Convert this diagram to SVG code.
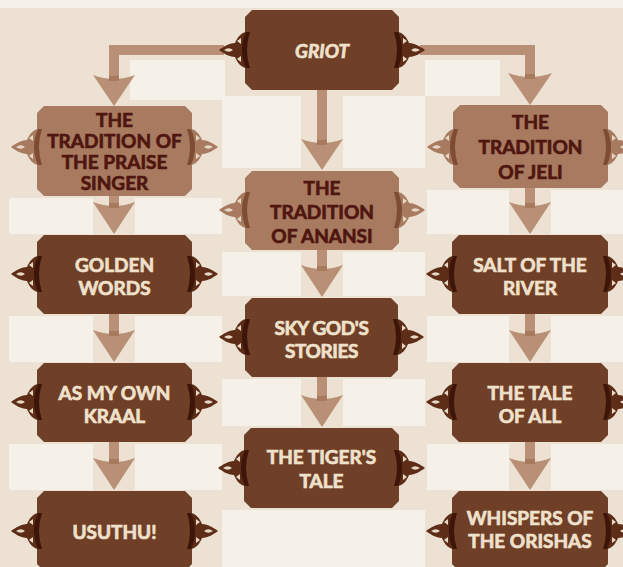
<svg xmlns="http://www.w3.org/2000/svg" xmlns:xlink="http://www.w3.org/1999/xlink" width="623" height="567" viewBox="0 0 623 567">
<style>
.bg{fill:#ece1d2}
.lt{fill:#f5f0e8}
.nd{fill:#6f3f27}
.nl{fill:#a87b60}
.td{font-family:Lato,"Liberation Sans",sans-serif;font-weight:700;font-size:19px;fill:#efe1cc;stroke:#efe1cc;stroke-width:0.7;text-anchor:middle}
.tl{font-family:Lato,"Liberation Sans",sans-serif;font-weight:700;font-size:19px;fill:#4f1610;stroke:#4f1610;stroke-width:0.7;text-anchor:middle}
.shaft{fill:none;stroke:#b98f75;stroke-width:10;stroke-linejoin:miter}
.head{fill:#b98f75}
.stub{fill:#a7795d}
</style>
<defs>
<g id="ornLd">
<path d="M2,-18 C-4,-18 -8,-12 -10,-7 C-16,-7 -22,-3 -26,0 C-22,3 -16,7 -10,7 C-8,12 -4,18 2,18 Z" fill="#5e2d17"/>
<path d="M-21,0 Q-16,-3.5 -12,0 Q-16,3.5 -21,0 Z M-8,-9 L-4,-12 L-4,-6 Z M-8,9 L-4,12 L-4,6 Z" fill="#e6d8c5"/>
<path d="M1,-18 Q-7,0 1,18 L5,18 Q-1,0 5,-18 Z" fill="#3d1509"/>
</g>
<g id="ornLl">
<path d="M2,-18 C-4,-18 -8,-12 -10,-7 C-16,-7 -22,-3 -26,0 C-22,3 -16,7 -10,7 C-8,12 -4,18 2,18 Z" fill="#a87b60"/>
<path d="M-21,0 Q-16,-3.5 -12,0 Q-16,3.5 -21,0 Z M-8,-9 L-4,-12 L-4,-6 Z M-8,9 L-4,12 L-4,6 Z" fill="#e6d8c5"/>
<path d="M1,-18 Q-7,0 1,18 L5,18 Q-1,0 5,-18 Z" fill="#7d4c33"/>
</g>
<g id="ornRd"><use xlink:href="#ornLd" transform="scale(-1,1)"/></g>
<g id="ornRl"><use xlink:href="#ornLl" transform="scale(-1,1)"/></g>
</defs>

<g id="background">
<rect class="bg" x="0" y="0" width="623" height="567"/>
<rect class="lt" x="0" y="0" width="623" height="8"/>
<rect class="lt" x="130" y="60" width="95" height="40"/>
<rect class="lt" x="222" y="96" width="79" height="72"/>
<rect class="lt" x="343" y="96" width="82" height="72"/>
<rect class="lt" x="425" y="60" width="75" height="36"/>
<rect class="lt" x="9" y="198" width="84" height="36"/>
<rect class="lt" x="135" y="198" width="87" height="36"/>
<rect class="lt" x="9" y="316" width="84" height="46"/>
<rect class="lt" x="135" y="316" width="87" height="46"/>
<rect class="lt" x="9" y="444" width="84" height="46"/>
<rect class="lt" x="135" y="444" width="87" height="46"/>
<rect class="lt" x="222" y="252" width="79" height="44"/>
<rect class="lt" x="343" y="252" width="82" height="44"/>
<rect class="lt" x="222" y="379" width="79" height="47"/>
<rect class="lt" x="343" y="379" width="82" height="47"/>
<rect class="lt" x="222" y="510" width="203" height="57"/>
<rect class="lt" x="427" y="190" width="82" height="44"/>
<rect class="lt" x="551" y="190" width="72" height="44"/>
<rect class="lt" x="427" y="316" width="82" height="46"/>
<rect class="lt" x="551" y="316" width="72" height="46"/>
<rect class="lt" x="427" y="444" width="82" height="46"/>
<rect class="lt" x="551" y="444" width="72" height="46"/>
</g>

<g id="connectors">
<path class="shaft" d="M224,50 H114 V80"/>
<path class="head" d="M93,75 Q114,83 135,75 L114,106 Z"/>
<rect class="stub" x="109" y="76" width="10" height="5"/>
<path class="shaft" d="M420,50 H530 V78"/>
<path class="head" d="M508,73 Q530,81 552,73 L530,105 Z"/>
<rect class="stub" x="525" y="74" width="10" height="5"/>
<path class="shaft" d="M322,90 V144"/>
<path class="head" d="M301,139 Q322,147 343,139 L322,170 Z"/>
<rect class="stub" x="317" y="140" width="10" height="5"/>

<path class="shaft" d="M114,196 V208"/>
<path class="head" d="M93,202 Q114,210 135,202 L114,234 Z"/>
<rect class="stub" x="109" y="203" width="10" height="5"/>
<path class="shaft" d="M114,314 V336"/>
<path class="head" d="M93,330 Q114,338 135,330 L114,362 Z"/>
<rect class="stub" x="109" y="331" width="10" height="5"/>
<path class="shaft" d="M114,442 V464"/>
<path class="head" d="M93,458 Q114,466 135,458 L114,490 Z"/>
<rect class="stub" x="109" y="459" width="10" height="5"/>

<path class="shaft" d="M322,250 V271"/>
<path class="head" d="M301,265 Q322,273 343,265 L322,297 Z"/>
<rect class="stub" x="317" y="266" width="10" height="5"/>
<path class="shaft" d="M322,377 V401"/>
<path class="head" d="M301,395 Q322,403 343,395 L322,427 Z"/>
<rect class="stub" x="317" y="396" width="10" height="5"/>

<path class="shaft" d="M530,188 V208"/>
<path class="head" d="M509,202 Q530,210 551,202 L530,234 Z"/>
<rect class="stub" x="525" y="203" width="10" height="5"/>
<path class="shaft" d="M530,314 V336"/>
<path class="head" d="M509,330 Q530,338 551,330 L530,362 Z"/>
<rect class="stub" x="525" y="331" width="10" height="5"/>
<path class="shaft" d="M530,442 V464"/>
<path class="head" d="M509,458 Q530,466 551,458 L530,490 Z"/>
<rect class="stub" x="525" y="459" width="10" height="5"/>
</g>

<g id="griot">
<path class="nd" d="M252,10 H392 L399,17 V83 L392,90 H252 L245,83 V17 Z"/>
<use xlink:href="#ornLd" x="245" y="50"/>
<use xlink:href="#ornRd" x="399" y="50"/>
<text class="td" x="322" y="58" font-style="italic" font-size="21">GRIOT</text>
</g>

<g id="praise-singer">
<path class="nl" d="M44,106 H185 L192,113 V189 L185,196 H44 L37,189 V113 Z"/>
<use xlink:href="#ornLl" x="37" y="147"/>
<use xlink:href="#ornRl" x="192" y="147"/>
<text class="tl" x="114.5" font-size="17.4"><tspan x="114.5" y="127">THE</tspan><tspan x="114.5" y="148">TRADITION OF</tspan><tspan x="114.5" y="169">THE PRAISE</tspan><tspan x="114.5" y="190">SINGER</tspan></text>
</g>

<g id="jeli">
<path class="nl" d="M460,105 H601 L608,112 V181 L601,188 H460 L453,181 V112 Z"/>
<use xlink:href="#ornLl" x="453" y="147"/>
<use xlink:href="#ornRl" x="608" y="147"/>
<text class="tl" x="530.5" font-size="20"><tspan x="530.5" y="129">THE</tspan><tspan x="530.5" y="154">TRADITION</tspan><tspan x="530.5" y="179">OF JELI</tspan></text>
</g>

<g id="anansi">
<path class="nl" d="M252,171 H392 L399,178 V243 L392,250 H252 L245,243 V178 Z"/>
<use xlink:href="#ornLl" x="245" y="210"/>
<use xlink:href="#ornRl" x="399" y="210"/>
<text class="tl" x="322" font-size="19.8"><tspan x="322" y="195">THE</tspan><tspan x="322" y="219">TRADITION</tspan><tspan x="322" y="243">OF ANANSI</tspan></text>
</g>

<g id="golden-words">
<path class="nd" d="M44,235 H185 L192,242 V307 L185,314 H44 L37,307 V242 Z"/>
<use xlink:href="#ornLd" x="37" y="274"/>
<use xlink:href="#ornRd" x="192" y="274"/>
<text class="td" x="114.5"><tspan x="114.5" y="272">GOLDEN</tspan><tspan x="114.5" y="295">WORDS</tspan></text>
</g>

<g id="sky-gods-stories">
<path class="nd" d="M252,298 H391 L398,305 V370 L391,377 H252 L245,370 V305 Z"/>
<use xlink:href="#ornLd" x="245" y="337"/>
<use xlink:href="#ornRd" x="398" y="337"/>
<text class="td" x="321.5" font-size="18" letter-spacing="-0.4"><tspan x="321.5" y="335">SKY GOD'S</tspan><tspan x="321.5" y="358">STORIES</tspan></text>
</g>

<g id="salt-of-the-river">
<path class="nd" d="M459,235 H601 L608,242 V307 L601,314 H459 L452,307 V242 Z"/>
<use xlink:href="#ornLd" x="452" y="274"/>
<use xlink:href="#ornRd" x="608" y="274"/>
<text class="td" x="530"><tspan x="530" y="272">SALT OF THE</tspan><tspan x="530" y="295">RIVER</tspan></text>
</g>

<g id="as-my-own-kraal">
<path class="nd" d="M44,363 H185 L192,370 V435 L185,442 H44 L37,435 V370 Z"/>
<use xlink:href="#ornLd" x="37" y="402"/>
<use xlink:href="#ornRd" x="192" y="402"/>
<text class="td" x="114.5"><tspan x="114.5" y="400">AS MY OWN</tspan><tspan x="114.5" y="423">KRAAL</tspan></text>
</g>

<g id="tiger-tale">
<path class="nd" d="M251,428 H392 L399,435 V501 L392,508 H251 L244,501 V435 Z"/>
<use xlink:href="#ornLd" x="244" y="468"/>
<use xlink:href="#ornRd" x="399" y="468"/>
<text class="td" x="321.5"><tspan x="321.5" y="464">THE TIGER'S</tspan><tspan x="321.5" y="488">TALE</tspan></text>
</g>

<g id="tale-of-all">
<path class="nd" d="M459,363 H601 L608,370 V435 L601,442 H459 L452,435 V370 Z"/>
<use xlink:href="#ornLd" x="452" y="402"/>
<use xlink:href="#ornRd" x="608" y="402"/>
<text class="td" x="530"><tspan x="530" y="400">THE TALE</tspan><tspan x="530" y="423">OF ALL</tspan></text>
</g>

<g id="usuthu">
<path class="nd" d="M44,491 H185 L192,498 V564 L185,571 H44 L37,564 V498 Z"/>
<use xlink:href="#ornLd" x="37" y="531"/>
<use xlink:href="#ornRd" x="192" y="531"/>
<text class="td" x="114.5" y="539">USUTHU!</text>
</g>

<g id="whispers-of-the-orishas">
<path class="nd" d="M459,491 H601 L608,498 V564 L601,571 H459 L452,564 V498 Z"/>
<use xlink:href="#ornLd" x="452" y="531"/>
<use xlink:href="#ornRd" x="608" y="531"/>
<text class="td" x="530" font-size="17"><tspan x="530" y="525">WHISPERS OF</tspan><tspan x="530" y="548">THE ORISHAS</tspan></text>
</g>
</svg>
